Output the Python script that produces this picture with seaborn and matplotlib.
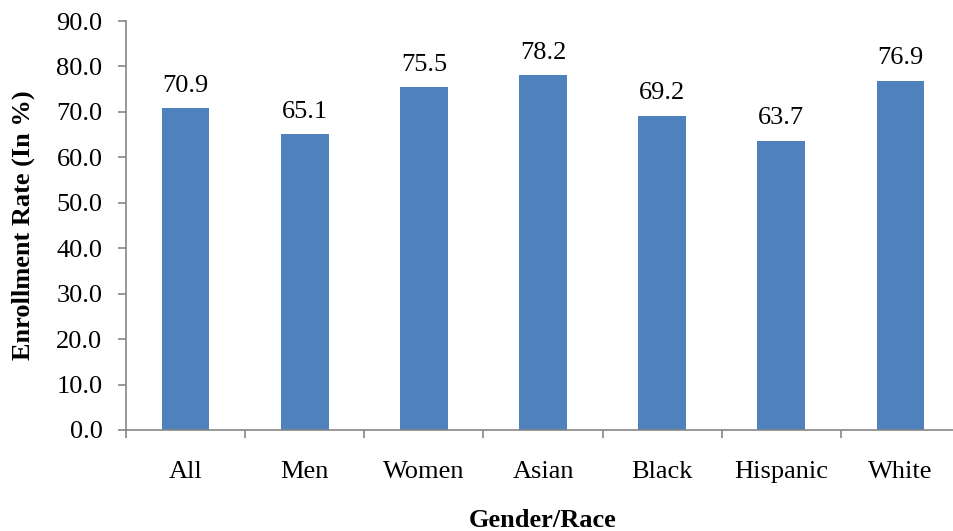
import matplotlib
matplotlib.use("Agg")
import matplotlib.pyplot as plt
import seaborn as sns
import pandas as pd
import numpy as np

groups = ["All", "Men", "Women", "Asian", "Black", "Hispanic", "White"]
rates = [70.9, 65.1, 75.5, 78.2, 69.2, 63.7, 76.9]
y_ticks = [0, 10, 20, 30, 40, 50, 60, 70, 80, 90]

sns.set_theme(style="white")
plt.rcParams["font.family"] = ["Liberation Serif", "DejaVu Serif"]
plt.rcParams["text.color"] = "black"
plt.rcParams["axes.labelcolor"] = "black"
plt.rcParams["xtick.labelcolor"] = "black"
plt.rcParams["ytick.labelcolor"] = "black"

FS = 19

df = pd.DataFrame({"group": groups, "rate": rates})

fig = plt.figure(figsize=(9.54, 5.31), dpi=100)
ax = fig.add_axes([126 / 954, 101 / 531, 834 / 954, 409 / 531])

sns.barplot(data=df, x="group", y="rate", color="#4F81BD", width=0.4,
            saturation=1, linewidth=0, ax=ax)

for i, v in enumerate(rates):
    ax.annotate(f"{v:.1f}", (i, v), xytext=(0, 8), textcoords="offset points",
                ha="center", va="bottom", fontsize=FS, color="black")

ax.set_ylim(0, 90)
ax.set_xlim(-0.5, len(groups) - 0.5)
ax.set_yticks(y_ticks)
ax.set_yticklabels([f"{t:.1f}" for t in y_ticks], fontsize=FS)
ax.set_xticks(np.arange(len(groups)))
ax.set_xticklabels(groups, fontsize=FS)
ax.tick_params(axis="x", length=0, pad=22)
ax.set_xticks(np.arange(len(groups) + 1) - 0.5, minor=True)
ax.tick_params(axis="x", which="minor", length=6, width=1.2, color="#868686",
               direction="out", bottom=True)
ax.tick_params(axis="y", length=6, width=1.2, color="#868686", direction="out",
               left=True, pad=11)

for side in ["top", "right"]:
    ax.spines[side].set_visible(False)
for side in ["left", "bottom"]:
    ax.spines[side].set_color("#868686")
    ax.spines[side].set_linewidth(1.2)

ax.set_xlabel("Gender/Race", fontsize=FS, fontweight="bold", labelpad=19)
ax.set_ylabel("Enrollment Rate (In %)", fontsize=FS, fontweight="bold", labelpad=15)

fig.savefig("out.png", dpi=100)
